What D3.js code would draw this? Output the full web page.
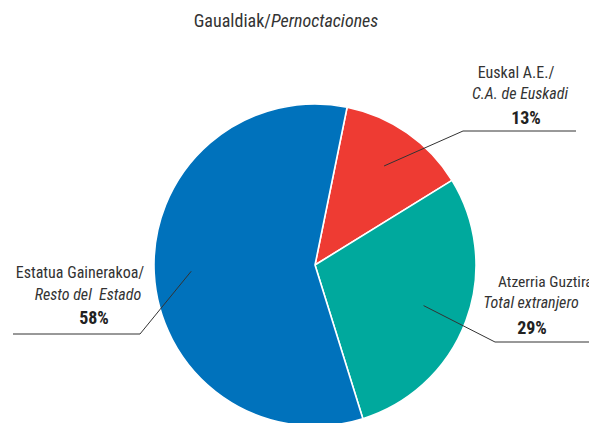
<!DOCTYPE html>
<html><head><meta charset="utf-8">
<script src="https://cdn.jsdelivr.net/npm/d3@7"></script>
<style>
html,body{margin:0;padding:0;background:#fff;}
svg{display:block;}
text{font-family:"Liberation Sans Narrow","Roboto Condensed","DejaVu Sans Condensed","Liberation Sans",sans-serif;fill:#333;white-space:pre;}
</style></head>
<body>
<svg id="chart" width="589" height="423"></svg>
<script>
const categories = ["Euskal A.E.", "Atzerria Guztira", "Estatua Gainerakoa"];
const labelsEu = ["Euskal A.E./", "Atzerria Guztira/", "Estatua Gainerakoa/"];
const labelsEs = ["C.A. de Euskadi", "Total extranjero", "Resto del  Estado"];
const values = [13, 29, 58];
const colors = ["#EE3B33", "#00A99D", "#0072BC"];

const svg = d3.select("#chart");
const cx = 315, cy = 265, r = 161;

const title = svg.append("text").attr("x", 286).attr("y", 27).attr("text-anchor", "middle").style("font-size", "18px");
title.append("tspan").text("Gaualdiak/");
title.append("tspan").style("font-style", "italic").text("Pernoctaciones");

const pie = d3.pie().sort(null).value(d => d)
  .startAngle(11.5 * Math.PI / 180).endAngle(11.5 * Math.PI / 180 + 2 * Math.PI);
const arcs = pie(values);
const arc = d3.arc().innerRadius(0).outerRadius(r);

const g = svg.append("g").attr("transform", `translate(${cx},${cy})`);
g.selectAll("path").data(arcs).join("path")
  .attr("d", arc)
  .attr("fill", (d, i) => colors[i])
  .attr("stroke", "#fff").attr("stroke-width", 1.6).attr("stroke-linejoin", "round");

const leaders = [
  {rf: 0.75, elbow: [463, 131], endX: 576},
  {rf: 0.72, elbow: [495, 342], endX: 589},
  {rf: 0.77, elbow: [140, 334], endX: 13}
];
arcs.forEach((d, i) => {
  const a = (d.startAngle + d.endAngle) / 2;
  const L = leaders[i];
  const p0 = [cx + Math.sin(a) * r * L.rf, cy - Math.cos(a) * r * L.rf];
  svg.append("polyline")
    .attr("points", [p0, L.elbow, [L.endX, L.elbow[1]]].map(p => p.join(",")).join(" "))
    .attr("fill", "none").attr("stroke", "#333").attr("stroke-width", 1);
});

const labelPos = [
  {x1: 516, y1: 78, x2: 520, y2: 99, x3: 526, y3: 124},
  {x1: 498, y1: 287, x2: 531, y2: 308, x3: 532, y3: 334},
  {x1: 80, y1: 278, x2: 88, y2: 300, x3: 94, y3: 324}
];
arcs.forEach((d, i) => {
  const p = labelPos[i];
  svg.append("text").attr("x", p.x1).attr("y", p.y1).attr("text-anchor", i === 1 ? "start" : "middle")
    .style("font-size", i === 1 ? "15.5px" : "16px").text(labelsEu[i]);
  svg.append("text").attr("x", p.x2).attr("y", p.y2).attr("text-anchor", "middle")
    .style("font-size", "16px").style("font-style", "italic").text(labelsEs[i]);
  svg.append("text").attr("x", p.x3).attr("y", p.y3).attr("text-anchor", "middle")
    .style("font-size", "18px").style("font-weight", "bold").style("fill", "#222").text(values[i] + "%");
});
</script>
</body></html>
